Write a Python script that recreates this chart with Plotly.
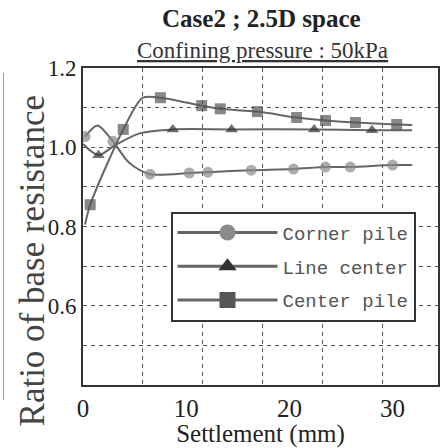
import plotly.graph_objects as go

# ---- data ----
corner_x = [0.2, 1.4, 2.9, 4.5, 6.5, 10.3, 12.1, 16.3, 20.4, 23.5, 25.9, 30.0, 31.9]
corner_y = [1.027, 1.055, 1.015, 0.96, 0.932, 0.935, 0.937, 0.942, 0.945, 0.95, 0.95, 0.955, 0.955]
corner_mark = [1, 0, 1, 0, 1, 1, 1, 1, 1, 1, 1, 1, 0]

line_x = [0.0, 1.5, 3.1, 5.5, 8.7, 14.4, 22.4, 28.0, 31.9]
line_y = [1.008, 0.98, 1.005, 1.035, 1.045, 1.045, 1.045, 1.043, 1.043]
line_mark = [0, 1, 0, 0, 1, 1, 1, 1, 0]

center_x = [0.2, 0.7, 3.9, 5.8, 7.5, 11.5, 13.3, 16.9, 20.7, 23.5, 26.4, 30.4, 31.9]
center_y = [0.805, 0.855, 1.045, 1.125, 1.125, 1.105, 1.097, 1.09, 1.075, 1.0675, 1.0625, 1.0575, 1.056]
center_mark = [0, 1, 1, 0, 1, 1, 1, 1, 1, 1, 1, 1, 0]

x_ticks = [0, 10, 20, 30]
y_ticks = [0.6, 0.8, 1.0, 1.2]

title = "Case2 ; 2.5D space"
subtitle = "Confining pressure : 50kPa"
x_title = "Settlement (mm)"
y_title = "Ratio of base resistance"

series = [
    ("Corner pile", corner_x, corner_y, corner_mark, "circle", "#8a8a8a", 11),
    ("Line center", line_x, line_y, line_mark, "triangle-up", "#333333", 11),
    ("Center pile", center_x, center_y, center_mark, "square", "#555555", 11),
]

# plot-area geometry in pixels
L, R, T, B = 83, 4, 68, 60
W, H = 444, 448
pw, ph = W - L - R, H - T - B


def px_x(x):
    return (x - L) / pw


def px_y(y):
    return (H - B - y) / ph


fig = go.Figure()
for i, (name, xs, ys, mk, sym, col, sz) in enumerate(series):
    fig.add_trace(go.Scatter(
        x=xs, y=ys, name=name, mode="lines+markers", showlegend=False,
        line=dict(color="#666666", width=2, shape="spline", smoothing=0.8),
        marker=dict(symbol=sym, color=col, size=[sz if m else 0 for m in mk],
                    line=dict(width=0)),
    ))
    # legend entry
    fig.add_trace(go.Scatter(
        x=[None], y=[None], name=name, mode="lines+markers", legendgroup=f"g{i}",
        line=dict(color="#666666", width=3),
        marker=dict(symbol=sym, color=col, size=16, line=dict(width=0)),
    ))

serif = "Liberation Serif, Times New Roman, serif"

fig.update_layout(
    width=W, height=H,
    margin=dict(l=L, r=R, t=T, b=B),
    paper_bgcolor="white", plot_bgcolor="white",
    font=dict(family=serif, color="#222222"),
    showlegend=True,
    legend=dict(
        x=px_x(171), y=px_y(213), xanchor="left", yanchor="top",
        bgcolor="white", bordercolor="#333333", borderwidth=2,
        font=dict(family="Liberation Mono, DejaVu Sans Mono, monospace", size=19, color="#555555"),
        itemwidth=100, traceorder="grouped", tracegroupgap=6,
    ),
    xaxis=dict(
        range=[0, 34.4], tickvals=x_ticks, showgrid=False,
        minor=dict(tick0=0, dtick=5.8, showgrid=True, gridcolor="#555555", griddash="4px,4px", gridwidth=1),
        showline=True, linecolor="#333333", linewidth=2, mirror=True,
        ticks="", tickfont=dict(size=25, family=serif, color="#222222"),
        title=dict(text=x_title, font=dict(size=25, family=serif, color="#222222"), standoff=4),
        zeroline=False,
    ),
    yaxis=dict(
        range=[0.4, 1.2], tickvals=y_ticks, tickformat=".1f",
        showgrid=True, gridcolor="#555555", gridwidth=1, griddash="4px,4px",
        minor=dict(tick0=0, dtick=0.1, showgrid=True, gridcolor="#555555", griddash="4px,4px", gridwidth=1),
        showline=True, linecolor="#333333", linewidth=2, mirror=True,
        ticks="", tickfont=dict(size=23, family=serif, color="#222222"),
        zeroline=False,
    ),
    annotations=[
        dict(text="<b>" + title + "</b>", x=px_x(263), y=px_y(18), xref="paper", yref="paper",
             xanchor="center", yanchor="middle",
             showarrow=False, font=dict(size=25, family=serif, color="#222222")),
        dict(text="<u>" + subtitle + "</u>", x=px_x(264), y=px_y(50), xref="paper", yref="paper",
             xanchor="center", yanchor="middle",
             showarrow=False, font=dict(size=23, family=serif, color="#333333")),
        dict(text=y_title, x=px_x(32), y=px_y(263), xref="paper", yref="paper",
             xanchor="center", yanchor="middle", textangle=-90,
             showarrow=False, font=dict(size=35, family=serif, color="#444444")),
    ],
)

fig.add_shape(type="line", xref="paper", yref="paper",
              x0=px_x(3), x1=px_x(3), y0=px_y(403), y1=px_y(73),
              line=dict(color="#999999", width=1))

fig.write_html("out.html")
